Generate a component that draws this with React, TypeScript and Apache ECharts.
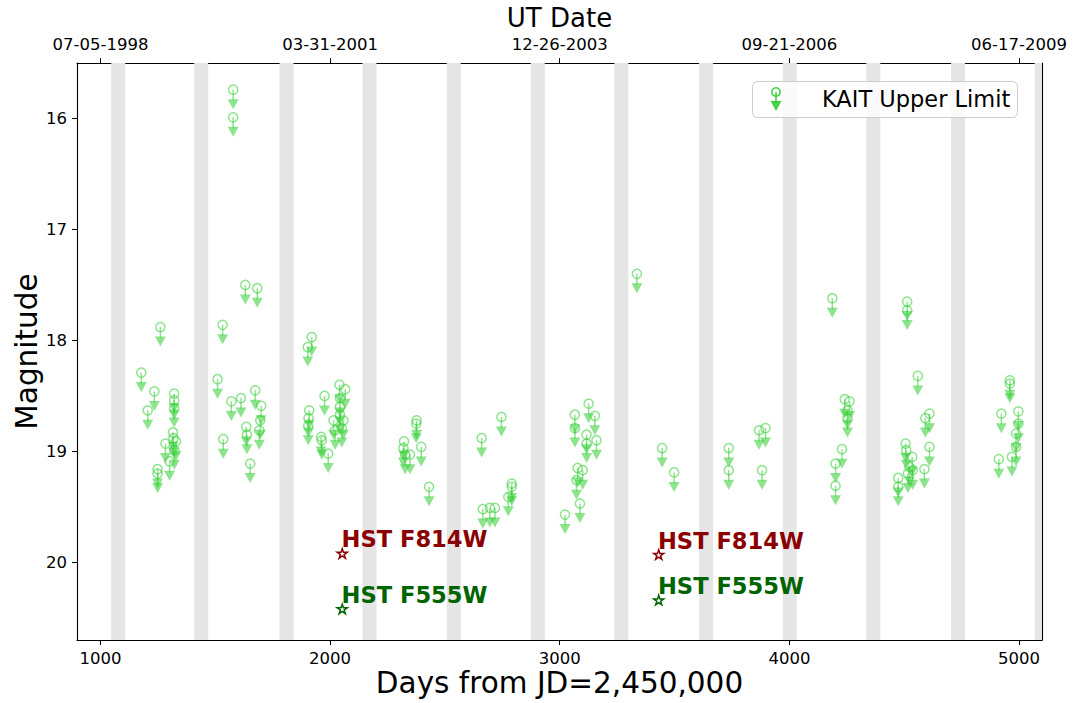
import React, { useEffect, useRef } from 'react';
import * as echarts from 'echarts';

// ---- data ----
const kaitDays = [
  1178, 1235, 1206, 1261, 1321, 1321, 1321, 1316, 1318, 1283, 1329, 1322, 1301, 1249, 1249,
  1578, 1578, 1532, 1510, 1570, 1612, 1674, 1635, 1638, 1535, 1652, 1631, 1683, 1700, 1696, 1692,
  1920, 1903, 1976, 2041, 2066, 2043, 2043, 2043, 1909, 1906, 1905, 2015, 2058, 2051, 2022, 1961, 1964, 1992,
  2377, 2375, 2322, 2319, 2327, 2348, 2397, 2431,
  2660, 2746, 2665, 2696, 2718, 2791, 2791, 2776,
  3023, 3066, 3066, 3126, 3153, 3117, 3160, 3078, 3100, 3073, 3088, 3117,
  3336, 3446, 3498,
  3736, 3736, 3868, 3896, 3881,
  4187, 4241, 4262, 4253, 4253, 4229, 4201, 4201,
  4513, 4513, 4559, 4592, 4610, 4610, 4506, 4509, 4535, 4537, 4523, 4588, 4474, 4474, 4516,
  4960, 4960, 4923, 4997, 4997, 4987, 4912, 4969, 4987,
];
const kaitMags = [
  18.29, 18.46, 18.63, 17.88, 18.48, 18.54, 18.61, 18.83, 18.88, 18.93, 18.91, 18.99, 19.09, 19.16, 19.2,
  15.74, 15.99, 17.86, 18.35, 18.55, 18.52, 18.45, 18.78, 18.85, 18.89, 19.11, 17.5, 17.53, 18.59, 18.72, 18.81,
  17.97, 18.06, 18.5, 18.4, 18.44, 18.52, 18.6, 18.67, 18.63, 18.7, 18.77, 18.72, 18.72, 18.79, 18.81, 18.87, 18.9, 19.02,
  18.72, 18.75, 18.91, 18.97, 19.03, 19.03, 18.96, 19.32,
  18.88, 18.69, 19.52, 19.51, 19.51, 19.29, 19.32, 19.41,
  19.57, 18.67, 18.79, 18.57, 18.68, 18.85, 18.9, 19.15, 19.17, 19.26, 19.47, 18.93,
  17.4, 18.97, 19.19,
  18.97, 19.17, 18.81, 18.79, 19.17,
  17.62, 18.53, 18.55, 18.63, 18.7, 18.98, 19.11, 19.31,
  17.65, 17.73, 18.32, 18.7, 18.66, 18.96, 18.93, 18.99, 19.05, 19.17, 19.14, 19.16, 19.24, 19.32, 19.2,
  18.36, 18.39, 18.66, 18.64, 18.75, 18.84, 19.07, 19.05, 18.96,
];

const hstDays = [2053, 3431];
const hstF814W = [19.92, 19.93];
const hstF555W = [20.42, 20.34];
const hstNames = ['HST F814W', 'HST F555W'];

// observing-season gaps (start, end) in days
const gapStarts = [1047, 1408, 1780, 2141, 2508, 2874, 3238, 3607, 3971, 4335, 4704, 5068];
const gapEnds = [1108, 1469, 1841, 2202, 2569, 2935, 3299, 3668, 4032, 4396, 4765, 5129];

const dayTicks = [1000, 2000, 3000, 4000, 5000];
const dateLabels = ['07-05-1998', '03-31-2001', '12-26-2003', '09-21-2006', '06-17-2009'];
const magTicks = [16, 17, 18, 19, 20];
const legendLabel = 'KAIT Upper Limit';

const X_MIN = 898;
const X_MAX = 5100;
const Y_MIN = 15.5;
const Y_MAX = 20.7;

const FONT = 'DejaVu Sans';
const KAIT_COLOR = 'rgba(50,205,50,0.55)';
const STAR = 'path://M0 -1 L0.2245 -0.309 L0.951 -0.309 L0.363 0.118 L0.588 0.809 L0 0.382 L-0.588 0.809 L-0.363 0.118 L-0.951 -0.309 L-0.2245 -0.309 Z';

function buildOption() {
  const kaitData = kaitDays.map((d, i) => [d, kaitMags[i]]);
  const gapData = gapStarts.map((s, i) => [s, gapEnds[i]]);

  const axisCommon = {
    type: 'value',
    min: X_MIN,
    max: X_MAX,
    nameMoveOverlap: false,
    splitLine: { show: false },
    axisLine: { show: true, onZero: false, lineStyle: { color: '#000', width: 1.1 } },
    axisTick: { show: true, inside: false, length: 5, lineStyle: { color: '#000', width: 1 }, customValues: dayTicks },
  };

  const hstLabel = (color: string, text: string) => ({
    show: true,
    formatter: text,
    position: [5, 3],
    align: 'left',
    verticalAlign: 'bottom',
    fontSize: 22.6,
    fontWeight: 'bold',
    color,
    textBorderWidth: 0,
    fontFamily: FONT,
  });

  return {
    animation: false,
    backgroundColor: '#fff',
    textStyle: { fontFamily: FONT },
    grid: { left: 77, right: 33, top: 63, bottom: 63, containLabel: false, outerBoundsMode: 'none' },
    xAxis: [
      {
        ...axisCommon,
        position: 'bottom',
        name: 'Days from JD=2,450,000',
        nameLocation: 'middle',
        nameGap: 28,
        nameTextStyle: { fontSize: 29.5, color: '#000', fontFamily: FONT },
        axisLabel: {
          show: true,
          customValues: dayTicks,
          fontSize: 16.5,
          color: '#000',
          margin: 10,
          fontFamily: FONT,
          formatter: (v: number) => String(v),
        },
      },
      {
        ...axisCommon,
        position: 'top',
        name: 'UT Date',
        nameLocation: 'middle',
        nameGap: 32,
        nameTextStyle: { fontSize: 26, color: '#000', fontFamily: FONT },
        axisLabel: {
          show: true,
          customValues: dayTicks,
          fontSize: 16.5,
          color: '#000',
          margin: 10,
          fontFamily: FONT,
          formatter: (v: number) => dateLabels[dayTicks.indexOf(v)] ?? '',
        },
      },
    ],
    yAxis: [
      {
        type: 'value',
        inverse: true,
        min: Y_MIN,
        max: Y_MAX,
        position: 'left',
        name: 'Magnitude',
        nameLocation: 'middle',
        nameGap: 35,
        nameRotate: 90,
        nameMoveOverlap: false,
        nameTextStyle: { fontSize: 29.5, color: '#000', fontFamily: FONT },
        splitLine: { show: false },
        axisLine: { show: true, onZero: false, lineStyle: { color: '#000', width: 1.1 } },
        axisTick: { show: true, length: 5, lineStyle: { color: '#000', width: 1 }, customValues: magTicks },
        axisLabel: {
          show: true,
          customValues: magTicks,
          fontSize: 16.5,
          color: '#000',
          margin: 10,
          fontFamily: FONT,
          formatter: (v: number) => String(v),
        },
      },
      {
        type: 'value',
        inverse: true,
        min: Y_MIN,
        max: Y_MAX,
        position: 'right',
        splitLine: { show: false },
        axisLine: { show: true, onZero: false, lineStyle: { color: '#000', width: 1.1 } },
        axisTick: { show: false },
        axisLabel: { show: false },
      },
    ],
    series: [
      {
        type: 'custom',
        name: 'gaps',
        z: 1,
        silent: true,
        clip: true,
        data: gapData,
        encode: { x: [0, 1] },
        renderItem: (params: any, api: any) => {
          const a = api.coord([api.value(0), 18]);
          const b = api.coord([api.value(1), 18]);
          const cs = params.coordSys;
          return {
            type: 'rect',
            shape: { x: a[0], y: cs.y, width: b[0] - a[0], height: cs.height },
            style: { fill: '#e5e5e5' },
          };
        },
      },
      {
        type: 'custom',
        name: legendLabel,
        z: 3,
        clip: true,
        data: kaitData,
        encode: { x: 0, y: 1 },
        renderItem: (params: any, api: any) => {
          const p = api.coord([api.value(0), api.value(1)]);
          return {
            type: 'group',
            children: [
              {
                type: 'circle',
                shape: { cx: p[0], cy: p[1], r: 4.6 },
                style: { fill: 'none', stroke: KAIT_COLOR, lineWidth: 1.5 },
              },
              {
                type: 'line',
                shape: { x1: p[0], y1: p[1], x2: p[0], y2: p[1] + 11 },
                style: { stroke: KAIT_COLOR, lineWidth: 1.5 },
              },
              {
                type: 'polygon',
                shape: { points: [[p[0] - 5.5, p[1] + 9.5], [p[0] + 5.5, p[1] + 9.5], [p[0], p[1] + 19.5]] },
                style: { fill: KAIT_COLOR },
              },
            ],
          };
        },
      },
      {
        type: 'scatter',
        name: hstNames[0],
        z: 4,
        symbol: STAR,
        symbolSize: 10,
        symbolKeepAspect: true,
        itemStyle: { color: 'rgba(0,0,0,0)', borderColor: '#8b0000', borderWidth: 1.5, opacity: 1 },
        data: hstDays.map((d, i) => [d, hstF814W[i]]),
        label: hstLabel('#8b0000', hstNames[0]),
      },
      {
        type: 'scatter',
        name: hstNames[1],
        z: 4,
        symbol: STAR,
        symbolSize: 10,
        symbolKeepAspect: true,
        itemStyle: { color: 'rgba(0,0,0,0)', borderColor: '#006400', borderWidth: 1.5, opacity: 1 },
        data: hstDays.map((d, i) => [d, hstF555W[i]]),
        label: hstLabel('#006400', hstNames[1]),
      },
    ],
    graphic: [
      {
        type: 'rect',
        z: 100,
        shape: { x: 752.5, y: 81.5, width: 265, height: 36, r: 5 },
        style: { fill: 'rgba(255,255,255,0.8)', stroke: '#cccccc', lineWidth: 1 },
      },
      {
        type: 'circle',
        z: 101,
        shape: { cx: 776, cy: 92, r: 4.2 },
        style: { fill: 'none', stroke: 'rgba(50,205,50,0.9)', lineWidth: 1.6 },
      },
      {
        type: 'line',
        z: 101,
        shape: { x1: 776, y1: 92, x2: 776, y2: 103 },
        style: { stroke: 'rgba(50,205,50,0.9)', lineWidth: 1.6 },
      },
      {
        type: 'polygon',
        z: 101,
        shape: { points: [[770.5, 101], [781.5, 101], [776, 111]] },
        style: { fill: 'rgba(50,205,50,0.9)' },
      },
      {
        type: 'text',
        z: 101,
        x: 822,
        y: 99,
        style: {
          text: legendLabel,
          fontSize: 22.5,
          fontFamily: FONT,
          fill: '#000',
          textAlign: 'left',
          textVerticalAlign: 'middle',
        },
      },
    ],
  };
}

export default function App() {
  const ref = useRef<HTMLDivElement>(null);
  useEffect(() => {
    if (!ref.current) return;
    const chart = echarts.init(ref.current, null, { renderer: 'svg' });
    chart.setOption(buildOption() as any);
    return () => chart.dispose();
  }, []);
  return <div ref={ref} style={{ position: 'fixed', left: 0, top: 0, width: 1075, height: 703 }} />;
}
